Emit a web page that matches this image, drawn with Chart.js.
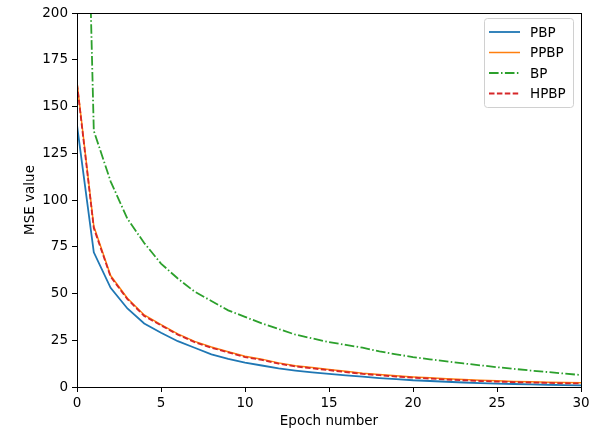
<!DOCTYPE html>
<html>
<head>
<meta charset="utf-8">
<script src="https://cdn.jsdelivr.net/npm/chart.js@4.4.1/dist/chart.umd.min.js"></script>
<style>
  html, body { margin: 0; padding: 0; background: #fff; }
  #wrap { width: 595px; height: 435px; }
</style>
</head>
<body>
<div id="wrap"><canvas id="chart" width="595" height="435"></canvas></div>
<script>
// epochs 0..30
const epochs = [0,1,2,3,4,5,6,7,8,9,10,11,12,13,14,15,16,17,18,19,20,21,22,23,24,25,26,27,28,29,30];

const pbp  = [140,72,53,42,34,29,24.5,21,17.5,15,13,11.5,10,8.8,7.8,7,6.2,5.5,4.8,4.2,3.6,3.2,2.8,2.4,2.1,1.8,1.6,1.4,1.2,1.0,0.9];
const ppbp = [163,86,59.6,47.5,38.5,33.4,28.4,24.4,21.4,18.9,16.4,14.9,12.9,11.4,10.4,9.4,8.4,7.4,6.7,6.0,5.4,4.9,4.4,4.0,3.6,3.3,3.0,2.8,2.6,2.4,2.3];
const bp   = [500,137,110,90,77,66,58,51,46,41,37.5,34,31,28,26,24,22.5,21,19,17.5,16,14.8,13.7,12.6,11.6,10.6,9.7,8.8,8,7.2,6.4];
const hpbp = [162,85,59,47,38,33,28,24,21,18.5,16,14.5,12.5,11,10,9,8,7,6.3,5.6,5,4.5,4,3.6,3.2,2.9,2.6,2.4,2.2,2.0,1.9];

const xTicks = [0,5,10,15,20,25,30];
const yTicks = [0,25,50,75,100,125,150,175,200];

const FONT = 'DejaVu Sans';
const FS = 13.5;

const pts = (vals) => epochs.map((e, i) => ({ x: e, y: vals[i] }));

// box around the plot, like matplotlib spines
const frame = {
  id: 'frame',
  afterDatasetsDraw(chart) {
    const { ctx, chartArea: a } = chart;
    ctx.save();
    ctx.strokeStyle = '#000';
    ctx.lineWidth = 1;
    ctx.strokeRect(a.left + 0.5, a.top + 0.5, a.right - a.left, a.bottom - a.top);
    ctx.restore();
  }
};

// legend inside the plot, upper right
const innerLegend = {
  id: 'innerLegend',
  afterDraw(chart) {
    const { ctx, chartArea: a } = chart;
    const sets = chart.data.datasets;
    const w = 89, rowH = 20.5, h = rowH * sets.length + 7;
    const x0 = a.right - w - 8, y0 = a.top + 5;
    ctx.save();
    ctx.fillStyle = 'rgba(255,255,255,0.8)';
    ctx.strokeStyle = '#d0d0d0';
    ctx.lineWidth = 1;
    ctx.beginPath();
    ctx.roundRect(x0 + 0.5, y0 + 0.5, w, h, 3);
    ctx.fill();
    ctx.stroke();
    ctx.font = FS + 'px "' + FONT + '"';
    ctx.textBaseline = 'middle';
    sets.forEach((ds, i) => {
      const y = y0 + 14 + i * rowH;
      ctx.strokeStyle = ds.borderColor;
      ctx.lineWidth = ds.borderWidth;
      ctx.setLineDash(ds.borderDash || []);
      ctx.beginPath();
      ctx.moveTo(x0 + 5, y);
      ctx.lineTo(x0 + 36, y);
      ctx.stroke();
      ctx.setLineDash([]);
      ctx.fillStyle = '#000';
      ctx.fillText(ds.label, x0 + 46, y + 1);
    });
    ctx.restore();
  }
};

new Chart(document.getElementById('chart'), {
  type: 'line',
  data: {
    datasets: [
      { label: 'PBP',  data: pts(pbp),  borderColor: '#1f77b4', borderWidth: 1.8, order: 4 },
      { label: 'PPBP', data: pts(ppbp), borderColor: '#ff7f0e', borderWidth: 1.5, order: 3 },
      { label: 'BP',   data: pts(bp),   borderColor: '#2ca02c', borderWidth: 1.8, borderDash: [9.6, 2.4, 1.5, 2.4], order: 2 },
      { label: 'HPBP', data: pts(hpbp), borderColor: '#d62728', borderWidth: 1.8, borderDash: [5.5, 2.4], order: 1 }
    ]
  },
  options: {
    responsive: false,
    animation: false,
    layout: { padding: { left: 0, top: 13, right: 14, bottom: 0 } },
    elements: { point: { radius: 0 }, line: { tension: 0 } },
    plugins: { legend: { display: false }, tooltip: { enabled: false } },
    scales: {
      x: {
        type: 'linear',
        min: 0, max: 30,
        afterFit: (s) => { s.height = 48; },
        afterBuildTicks: (s) => { s.ticks = xTicks.map(v => ({ value: v })); },
        ticks: { color: '#000', font: { family: FONT, size: FS }, padding: 3, maxRotation: 0 },
        grid: { drawOnChartArea: false, drawTicks: true, tickLength: 5, color: '#000' },
        border: { display: true, color: '#000', width: 1 },
        title: { display: true, text: 'Epoch number', color: '#000', font: { family: FONT, size: FS }, padding: { top: 0, bottom: 5 } }
      },
      y: {
        type: 'linear',
        min: 0, max: 200,
        afterFit: (s) => { s.width = 77; },
        afterBuildTicks: (s) => { s.ticks = yTicks.map(v => ({ value: v })); },
        ticks: { color: '#000', font: { family: FONT, size: FS }, padding: 4 },
        grid: { drawOnChartArea: false, drawTicks: true, tickLength: 5, color: '#000' },
        border: { display: true, color: '#000', width: 1 },
        title: { display: true, text: 'MSE value', color: '#000', font: { family: FONT, size: FS }, padding: { top: 22, bottom: 0 } }
      }
    }
  },
  plugins: [frame, innerLegend]
});
</script>
</body>
</html>
